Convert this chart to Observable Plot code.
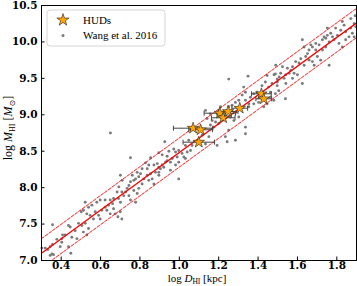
<!DOCTYPE html>
<html><head><meta charset="utf-8">
<script src="https://cdn.jsdelivr.net/npm/d3@7"></script>
<script src="https://cdn.jsdelivr.net/npm/@observablehq/plot@0.6"></script>
<style>body{margin:0;background:#fff}#chart{width:357px;height:286px}</style>
</head><body><div id="chart"></div>
<script>
// Wang et al. 2016 sample: [log D_HI, log M_HI]
const wangPoints = [
[0.708,7.94],[0.691,7.85],[0.666,7.85],[0.661,7.78],[0.649,7.83],[0.623,7.83],[0.598,7.83],[0.581,7.80],[0.556,7.76],[0.539,7.73],
[0.522,7.80],[0.513,7.69],[0.502,7.67],[0.530,7.64],[0.547,7.62],[0.564,7.57],[0.573,7.67],[0.590,7.62],[0.598,7.57],[0.606,7.69],
[0.623,7.73],[0.632,7.69],[0.640,7.76],[0.649,7.64],[0.666,7.71],[0.674,7.64],[0.688,7.60],[0.700,7.67],[0.708,7.57],[0.356,7.49],
[0.437,7.48],[0.446,7.46],[0.488,7.51],[0.505,7.48],[0.522,7.51],[0.539,7.44],[0.471,7.41],[0.454,7.32],[0.420,7.35],[0.407,7.35],
[0.403,7.30],[0.480,7.30],[0.513,7.39],[0.530,7.35],[0.302,7.17],[0.319,7.17],[0.332,7.15],[0.344,7.19],[0.356,7.22],[0.395,7.19],
[0.403,7.25],[0.353,7.09],[0.344,7.07],[0.361,7.08],[0.449,7.10],[0.437,7.19],[0.378,7.29],
[0.926,8.63],[0.752,8.41],[0.854,8.41],[0.896,8.48],[0.913,8.45],[0.938,8.43],[0.947,8.50],[0.972,8.53],[0.981,8.49],[0.997,8.51],
[1.014,8.47],[1.023,8.42],[1.031,8.40],[0.989,8.42],[0.964,8.40],[0.955,8.35],[0.930,8.35],[0.913,8.31],[0.896,8.28],[0.888,8.33],
[0.871,8.31],[0.845,8.31],[0.837,8.26],[0.828,8.34],[0.811,8.26],[0.803,8.19],[0.794,8.15],[0.786,8.21],[0.778,8.12],[0.769,8.10],
[0.761,8.17],[0.752,8.08],[0.744,8.03],[0.735,7.99],[0.727,7.94],[0.710,8.10],[0.701,8.17],[0.693,8.01],[0.684,7.94],[0.718,7.89],
[0.744,7.89],[0.769,7.96],[0.794,7.99],[0.811,8.05],[0.820,8.12],[0.837,8.17],[0.854,8.19],[0.862,8.12],[0.879,8.21],[0.896,8.21],
[0.904,8.26],[0.921,8.28],[0.938,8.37],[0.997,8.12],[1.040,8.49],[1.057,8.51],[1.031,8.58],[1.065,8.58],[1.048,8.65],[0.997,8.35],
[0.981,8.31],[0.955,8.24],[0.778,7.80],[0.786,7.92],[0.752,7.83],[0.701,7.80],[0.845,8.10],[0.871,8.05],[0.896,8.17],
[1.251,9.49],[1.349,9.53],[1.446,9.54],[1.488,9.56],[1.497,9.49],[1.471,9.43],[1.454,9.38],[1.437,9.45],[1.420,9.40],[1.395,9.31],
[1.378,9.29],[1.361,9.24],[1.336,9.31],[1.327,9.38],[1.319,9.27],[1.336,9.20],[1.353,9.15],[1.302,9.20],[1.285,9.17],[1.268,9.13],
[1.251,9.11],[1.243,9.06],[1.260,8.97],[1.277,8.92],[1.234,8.99],[1.217,8.95],[1.200,8.88],[1.184,8.90],[1.167,8.92],[1.158,8.86],
[1.175,8.83],[1.133,9.06],[1.141,8.95],[1.158,9.01],[1.302,8.97],[1.336,8.83],[1.336,8.74],[1.251,8.79],[1.234,8.70],[1.285,8.65],
[1.243,8.63],[1.192,8.58],[1.116,8.72],[1.150,8.70],[1.133,8.60],[1.353,9.11],[1.378,9.15],[1.403,9.17],[1.429,9.22],[1.463,9.24],
[1.480,9.20],[1.488,9.29],[1.505,9.33],[1.497,9.40],[1.429,9.11],[1.446,9.15],[1.463,9.31],[1.209,9.11],[1.192,9.01],[1.226,9.04],
[1.625,10.03],[1.752,10.19],[1.828,10.28],[1.837,10.23],[1.871,10.32],[1.879,10.12],[1.888,10.07],[1.862,10.07],[1.845,10.14],[1.820,10.16],
[1.803,10.09],[1.786,10.03],[1.778,10.07],[1.761,10.00],[1.744,10.05],[1.727,10.03],[1.710,9.96],[1.693,9.98],[1.676,9.93],[1.668,9.96],
[1.659,9.89],[1.651,9.84],[1.642,9.80],[1.634,9.93],[1.693,9.89],[1.701,9.80],[1.718,9.75],[1.685,9.68],[1.676,9.73],[1.659,9.75],
[1.634,9.68],[1.617,9.77],[1.608,9.71],[1.591,9.73],[1.575,9.66],[1.566,9.61],[1.558,9.57],[1.549,9.64],[1.541,9.55],[1.532,9.50],
[1.524,9.66],[1.515,9.57],[1.507,9.52],[1.498,9.45],[1.490,9.68],[1.481,9.55],[1.583,9.57],[1.600,9.55],[1.625,9.43],[1.541,9.43],
[1.575,9.50],[1.761,9.68],[1.727,9.89],[1.744,9.93],[1.811,9.98],[1.828,9.93],[1.845,10.03],[1.871,10.19],[1.896,10.21],[1.888,10.25],
[1.794,10.19],[1.769,10.12],[1.752,10.09],[1.735,10.07],[1.539,9.22],[0.650,8.75],[1.893,10.36]
];

// HUDs
const hudLogD = [1.070, 1.108, 1.099, 1.206, 1.223, 1.248, 1.307, 1.417, 1.429];
const hudLogM = [8.816, 8.794, 8.624, 9.022, 8.959, 9.045, 9.090, 9.288, 9.219];
const hudErrD = [0.10, 0.06, 0.08, 0.08, 0.06, 0.05, 0.04, 0.05, 0.04];

// Size-mass relation and its scatter band
const fitLogD   = [0.3, 1.9];
const fitLogM   = [7.10, 10.26];
const upperLogM = [7.30, 10.46];
const lowerLogM = [6.90, 10.06];

const xTicks = [0.4, 0.6, 0.8, 1.0, 1.2, 1.4, 1.6, 1.8];
const yTicks = [7.0, 7.5, 8.0, 8.5, 9.0, 9.5, 10.0, 10.5];

const wang = wangPoints.map(([d, m]) => ({d, m}));
const huds = hudLogD.map((d, i) => ({d, m: hudLogM[i], lo: d - hudErrD[i], hi: d + hudErrD[i]}));
const fit = fitLogD.map((d, i) => ({d, m: fitLogM[i], up: upperLogM[i], low: lowerLogM[i]}));

const capSymbol = {draw(ctx) { ctx.moveTo(0, -2.5); ctx.lineTo(0, 2.5); }};
const tickFont = {fontFamily: "DejaVu Serif", fontWeight: "bold", fontSize: 10.5};

const chart = Plot.plot({
  width: 357, height: 286,
  marginLeft: 41, marginRight: 1, marginTop: 5, marginBottom: 26,
  style: {fontFamily: "DejaVu Serif", background: "white", color: "black"},
  x: {domain: [0.3, 1.9], label: null},
  y: {domain: [7.0, 10.5], label: null},
  marks: [
    Plot.dot(wang, {x: "d", y: "m", r: 1.45, fill: "#7a7a7a", stroke: "none"}),
    Plot.line(fit, {x: "d", y: "m", stroke: "red", strokeWidth: 1.3, clip: true}),
    Plot.line(fit, {x: "d", y: "up", stroke: "red", strokeWidth: 0.9, strokeDasharray: "3,1.6", clip: true}),
    Plot.line(fit, {x: "d", y: "low", stroke: "red", strokeWidth: 0.9, strokeDasharray: "3,1.6", clip: true}),
    Plot.link(huds, {x1: "lo", x2: "hi", y1: "m", y2: "m", stroke: "#444", strokeWidth: 1}),
    Plot.dot(huds, {x: "lo", y: "m", symbol: capSymbol, stroke: "#444", fill: "none", strokeWidth: 1}),
    Plot.dot(huds, {x: "hi", y: "m", symbol: capSymbol, stroke: "#444", fill: "none", strokeWidth: 1}),
    Plot.dot(huds, {x: "d", y: "m", symbol: "star", r: 3.6, fill: "#FFA500", stroke: "#222", strokeWidth: 0.6}),
    Plot.axisX({ticks: xTicks, tickSize: -3.5, tickFormat: () => ""}),
    Plot.axisY({ticks: yTicks, tickSize: -3.5, tickFormat: () => ""}),
    Plot.axisX({ticks: xTicks, tickSize: 0, tickPadding: 1, tickFormat: d3.format(".1f"), ...tickFont}),
    Plot.axisY({ticks: yTicks, tickSize: 0, tickPadding: 4, tickFormat: d3.format(".1f"), ...tickFont}),
    Plot.frame({stroke: "black", strokeWidth: 1})
  ]
});
document.getElementById("chart").appendChild(chart);

const svg = d3.select(chart);
// Axis labels
const xl = svg.append("text").attr("x", 197).attr("y", 281.5).attr("text-anchor", "middle")
  .attr("font-family", "Liberation Serif").attr("font-size", 11).attr("fill", "black");
xl.append("tspan").text("log ");
xl.append("tspan").attr("font-style", "italic").text("D");
xl.append("tspan").attr("font-size", 7.5).attr("dy", 2).text("HI");
xl.append("tspan").attr("dy", -2).text(" [kpc]");

const yl = svg.append("text").attr("transform", "translate(12,128) rotate(-90)").attr("text-anchor", "middle")
  .attr("font-family", "Liberation Serif").attr("font-size", 12).attr("fill", "black");
yl.append("tspan").text("log ");
yl.append("tspan").attr("font-style", "italic").text("M");
yl.append("tspan").attr("font-size", 8).attr("dy", 2.5).text("HI");
yl.append("tspan").attr("dy", -2.5).text(" [");
yl.append("tspan").attr("font-style", "italic").text("M");
yl.append("tspan").attr("font-size", 8).attr("dy", 2.5).attr("font-family", "DejaVu Sans").text("\u2299");
yl.append("tspan").attr("dy", -2.5).text("]");

// Legend
const lg = svg.append("g");
lg.append("rect").attr("x", 47).attr("y", 10).attr("width", 118).attr("height", 36).attr("rx", 3)
  .attr("fill", "white").attr("fill-opacity", 0.85).attr("stroke", "#cccccc").attr("stroke-width", 0.8);
lg.append("path").attr("d", d3.symbol(d3.symbolStar, Math.PI * 3.6 * 3.6 * 1.15)()).attr("transform", "translate(63,20)")
  .attr("fill", "#FFA500").attr("stroke", "#222").attr("stroke-width", 0.6);
lg.append("circle").attr("cx", 63).attr("cy", 35.5).attr("r", 1.5).attr("fill", "#7a7a7a");
lg.append("text").attr("x", 83).attr("y", 20).attr("dy", "0.35em").attr("text-anchor", "start")
  .attr("font-family", "Liberation Serif").attr("font-size", 11).attr("fill", "black").text("HUDs");
lg.append("text").attr("x", 83).attr("y", 35.5).attr("dy", "0.35em").attr("text-anchor", "start")
  .attr("font-family", "Liberation Serif").attr("font-size", 11).attr("fill", "black").text("Wang et al. 2016");
</script>
</body></html>
